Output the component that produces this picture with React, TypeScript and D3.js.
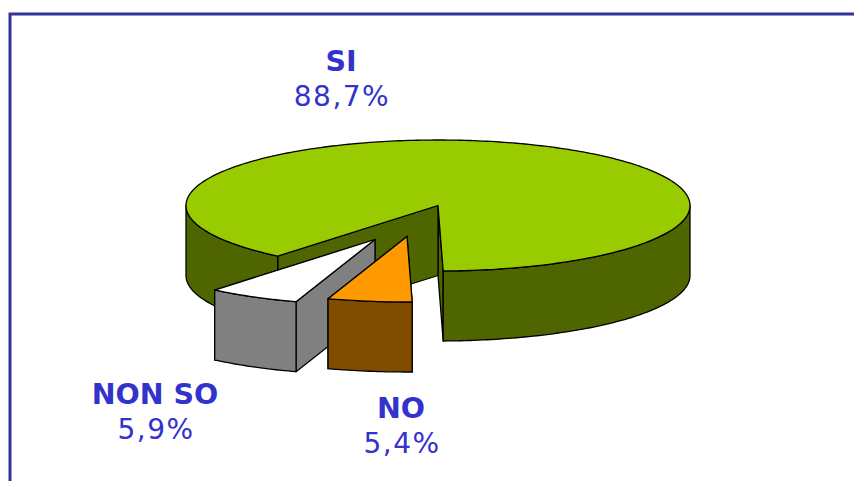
import React from "react";
import * as d3 from "d3";

const categories = ["SI", "NO", "NON SO"];
const values = [88.7, 5.4, 5.9];
const percentLabels = ["88,7%", "5,4%", "5,9%"];
const topColors = ["#99CC00", "#FF9900", "#FFFFFF"];
const sideColors = ["#4F6600", "#7F4C00", "#808080"];
const explodeX = [0, -31, -63];
const explodeY = [0, 31, 34];
const labelX = [341, 401, 155];
const labelY = [71, 418, 404];

const W = 854, H = 481;
const cx = 438, cy = 205.5, rx = 252, ry = 65.5, depth = 70;
const FONT = "'DejaVu Sans', Verdana, sans-serif";
const BLUE = "#3333CC";

const deg = Math.PI / 180;
const pie = d3.pie<number>().sort(null).startAngle(219.5 * deg).endAngle((219.5 + 360) * deg);
const arcs = pie(values);
const line = d3.line<[number, number]>().x(d => d[0]).y(d => d[1]);

function pt(a: number, dx: number, dy: number): [number, number] {
  return [cx + dx + rx * Math.sin(a), cy + dy - ry * Math.cos(a)];
}
function sample(a0: number, a1: number, dx: number, dy: number) {
  const n = Math.max(2, Math.ceil(Math.abs(a1 - a0) / (1 * deg)));
  return d3.range(n + 1).map(i => pt(a0 + ((a1 - a0) * i) / n, dx, dy));
}
function down(p: [number, number]): [number, number] {
  return [p[0], p[1] + depth];
}
// Front-facing spans of the rim (angle measured clockwise from top; front is 90..270 modulo 360)
function frontSpans(a0: number, a1: number) {
  const out: [number, number][] = [];
  for (const k of [0, 1, 2]) {
    const lo = Math.max(a0, (90 + 360 * k) * deg);
    const hi = Math.min(a1, (270 + 360 * k) * deg);
    if (hi > lo) out.push([lo, hi]);
  }
  return out;
}

function Slice({ i }: { i: number }) {
  const { startAngle: a0, endAngle: a1 } = arcs[i];
  const dx = explodeX[i], dy = explodeY[i];
  const apex: [number, number] = [cx + dx, cy + dy];
  const stroke = { stroke: "#000", strokeWidth: 1.3, strokeLinejoin: "round" as const };
  // the far wall first, so the near wall hides it
  const walls = [a1, a0].map(a => {
    const p = pt(a, dx, dy);
    return [apex, p, down(p), down(apex)] as [number, number][];
  });
  const rims = frontSpans(a0, a1).map(([lo, hi]) => {
    const top = sample(lo, hi, dx, dy);
    return [...top, ...top.slice().reverse().map(down)];
  });
  const topFace = [apex, ...sample(a0, a1, dx, dy)];
  return (
    <g>
      {walls.map((w, k) => (
        <path key={k} d={line(w)! + "Z"} fill={sideColors[i]} {...stroke} />
      ))}
      {rims.map((r, k) => (
        <path key={k} d={line(r)! + "Z"} fill={sideColors[i]} {...stroke} />
      ))}
      <path d={line(topFace)! + "Z"} fill={topColors[i]} {...stroke} />
    </g>
  );
}

export default function App() {
  return (
    <svg
      width={W}
      height={H}
      viewBox={`0 0 ${W} ${H}`}
      style={{ position: "fixed", left: 0, top: 0, background: "#fff" }}
    >
      <path d={`M10,${H + 2}V14H${W + 2}`} fill="none" stroke="#333399" strokeWidth={3} />
      {[0, 2, 1].map(i => (
        <Slice key={i} i={i} />
      ))}
      {categories.map((c, i) => (
        <text key={c} textAnchor="middle" fontFamily={FONT} fill={BLUE}>
          <tspan x={labelX[i]} y={labelY[i]} fontWeight="bold" fontSize={28.5}>{c}</tspan>
          <tspan x={labelX[i] + 1} y={labelY[i] + 35} fontSize={28} letterSpacing={1.5}>{percentLabels[i]}</tspan>
        </text>
      ))}
    </svg>
  );
}
